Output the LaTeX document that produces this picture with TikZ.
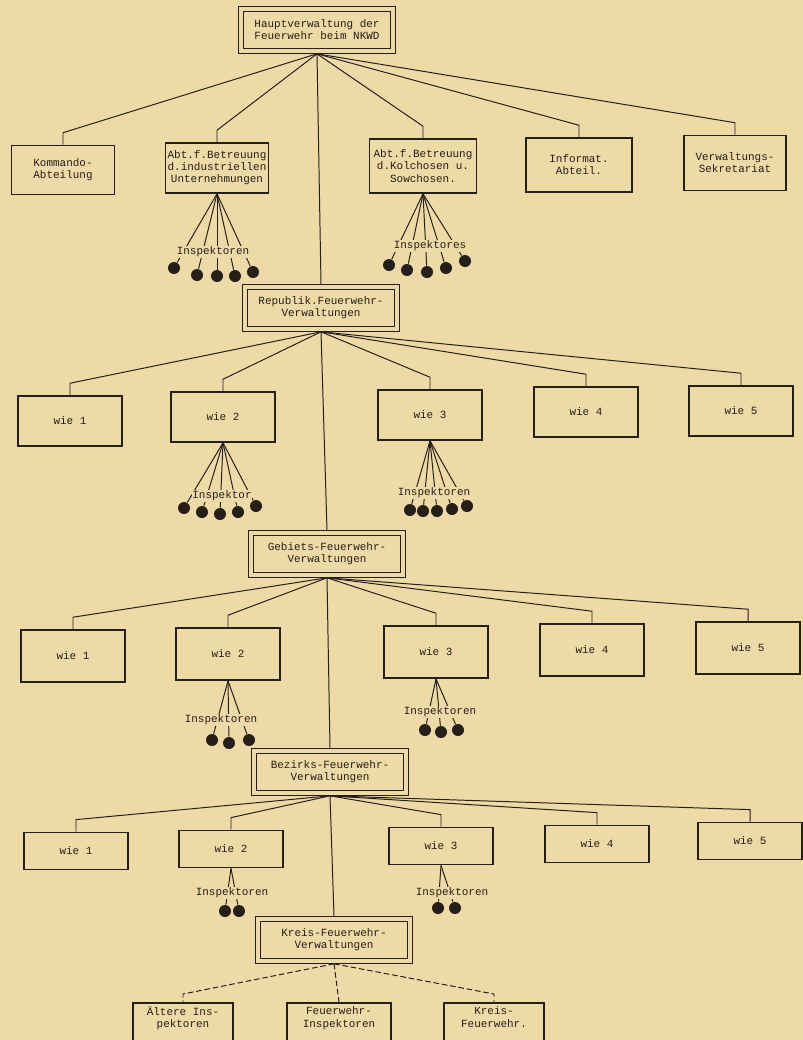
\documentclass[tikz,border=0pt]{standalone}
\usepackage{fontspec}
\setmonofont{Liberation Mono}
\usetikzlibrary{positioning, calc}
\definecolor{paper}{RGB}{238,218,166}
\definecolor{ink}{RGB}{38,30,24}

\begin{document}
\begin{tikzpicture}[x=0.025cm, y=-0.025cm, color=ink, line width=0.7pt,
    font=\ttfamily\fontsize{7.8}{8.6}\selectfont,
    box/.style={rectangle, draw, line width=1.1pt, align=center, inner sep=1pt, minimum width=2.6cm},
    hub/.style={rectangle, draw, double=paper, double distance=2.2pt, line width=0.9pt, align=center,
        inner sep=1pt, outer sep=2pt, minimum width=3.8cm, minimum height=1.05cm},
    ball/.style={circle, fill, inner sep=0pt, minimum size=0.3cm},
    insp/.style={fill=paper, inner sep=0.6pt},
    dashlink/.style={dash pattern=on 4pt off 2pt}]
    \path[use as bounding box, fill=paper] (0,0) rectangle (803,1040);

    % Draw the head offices.
    \node[hub] (haupt) at (317,30) {Hauptverwaltung der\\Feuerwehr beim NKWD};
    \node[hub] (rep) at (321,308) {Republik.Feuerwehr-\\Verwaltungen};
    \node[hub] (geb) at (327,554) {Gebiets-Feuerwehr-\\Verwaltungen};
    \node[hub] (bez) at (330,772) {Bezirks-Feuerwehr-\\Verwaltungen};
    \node[hub] (kreis) at (334,940) {Kreis-Feuerwehr-\\Verwaltungen};

    % Draw the departments of the main office.
    \node[box, minimum width=2.575cm, minimum height=1.225cm] (kom) at (63,170) {Kommando-\\Abteilung};
    \node[box, minimum width=2.575cm, minimum height=1.25cm] (ind) at (217,168) {Abt.f.Betreuung\\d.industriellen\\Unternehmungen};
    \node[box, minimum width=2.675cm, minimum height=1.35cm] (kol) at (423,166) {Abt.f.Betreuung\\d.Kolchosen u.\\Sowchosen.};
    \node[box, minimum width=2.65cm, minimum height=1.35cm] (inf) at (579,165) {Informat.\\Abteil.};
    \node[box, minimum width=2.55cm, minimum height=1.375cm] (sek) at (735,163) {Verwaltungs-\\Sekretariat};

    % Draw the rows below.
    \node[box, minimum height=1.25cm] (w21) at (70,421) {wie 1};
    \node[box, minimum height=1.25cm] (w22) at (223,417) {wie 2};
    \node[box, minimum height=1.25cm] (w23) at (430,415) {wie 3};
    \node[box, minimum height=1.25cm] (w24) at (586,412) {wie 4};
    \node[box, minimum height=1.25cm] (w25) at (741,411) {wie 5};

    \node[box, minimum height=1.3cm] (w31) at (73,656) {wie 1};
    \node[box, minimum height=1.3cm] (w32) at (228,654) {wie 2};
    \node[box, minimum height=1.3cm] (w33) at (436,652) {wie 3};
    \node[box, minimum height=1.3cm] (w34) at (592,650) {wie 4};
    \node[box, minimum height=1.3cm] (w35) at (748,648) {wie 5};

    \node[box, minimum height=0.93cm] (w41) at (76,851) {wie 1};
    \node[box, minimum height=0.93cm] (w42) at (231,849) {wie 2};
    \node[box, minimum height=0.93cm] (w43) at (441,846) {wie 3};
    \node[box, minimum height=0.93cm] (w44) at (597,844) {wie 4};
    \node[box, minimum height=0.93cm] (w45) at (750,841) {wie 5};

    \node[box, anchor=north, minimum width=2.5cm, text depth=0.9cm, inner ysep=3pt] (alt) at (183,1002) {Ältere Ins-\\pektoren};
    \node[box, anchor=north, minimum width=2.6cm, text depth=0.9cm, inner ysep=3pt] (fin) at (339,1002) {Feuerwehr-\\Inspektoren};
    \node[box, anchor=north, minimum width=2.5cm, text depth=0.9cm, inner ysep=3pt] (kfw) at (494,1002) {Kreis-\\Feuerwehr.};

    % Draw the inspectors.
    \node[ball] (b1a) at (174,268) {};
    \node[ball] (b1b) at (197,275) {};
    \node[ball] (b1c) at (217,276) {};
    \node[ball] (b1d) at (235,276) {};
    \node[ball] (b1e) at (253,272) {};
    \node[ball] (b1f) at (389,265) {};
    \node[ball] (b1g) at (407,270) {};
    \node[ball] (b1h) at (427,272) {};
    \node[ball] (b1i) at (446,268) {};
    \node[ball] (b1j) at (465,261) {};

    \node[ball] (b2a) at (184,508) {};
    \node[ball] (b2b) at (202,512) {};
    \node[ball] (b2c) at (220,514) {};
    \node[ball] (b2d) at (238,512) {};
    \node[ball] (b2e) at (256,506) {};
    \node[ball] (b2f) at (410,510) {};
    \node[ball] (b2g) at (423,511) {};
    \node[ball] (b2h) at (437,511) {};
    \node[ball] (b2i) at (452,509) {};
    \node[ball] (b2j) at (467,506) {};

    \node[ball] (b3a) at (212,740) {};
    \node[ball] (b3b) at (229,743) {};
    \node[ball] (b3c) at (249,740) {};
    \node[ball] (b3d) at (425,730) {};
    \node[ball] (b3e) at (441,732) {};
    \node[ball] (b3f) at (458,730) {};

    \node[ball] (b4a) at (225,911) {};
    \node[ball] (b4b) at (239,911) {};
    \node[ball] (b4c) at (438,908) {};
    \node[ball] (b4d) at (455,908) {};

    % Connect the offices.
    \draw (haupt.south) -- (rep.north);
    \draw (rep.south) -- (geb.north);
    \draw (geb.south) -- (bez.north);
    \draw (bez.south) -- (kreis.north);

    \draw (haupt.south) -- ([yshift=0.3cm]kom.north) -- (kom.north);
    \draw (haupt.south) -- ([yshift=0.3cm]ind.north) -- (ind.north);
    \draw (haupt.south) -- ([yshift=0.3cm]kol.north) -- (kol.north);
    \draw (haupt.south) -- ([yshift=0.3cm]inf.north) -- (inf.north);
    \draw (haupt.south) -- ([yshift=0.3cm]sek.north) -- (sek.north);

    \draw (rep.south) -- ([yshift=0.3cm]w21.north) -- (w21.north);
    \draw (rep.south) -- ([yshift=0.3cm]w22.north) -- (w22.north);
    \draw (rep.south) -- ([yshift=0.3cm]w23.north) -- (w23.north);
    \draw (rep.south) -- ([yshift=0.3cm]w24.north) -- (w24.north);
    \draw (rep.south) -- ([yshift=0.3cm]w25.north) -- (w25.north);

    \draw (geb.south) -- ([yshift=0.3cm]w31.north) -- (w31.north);
    \draw (geb.south) -- ([yshift=0.3cm]w32.north) -- (w32.north);
    \draw (geb.south) -- ([yshift=0.3cm]w33.north) -- (w33.north);
    \draw (geb.south) -- ([yshift=0.3cm]w34.north) -- (w34.north);
    \draw (geb.south) -- ([yshift=0.3cm]w35.north) -- (w35.north);

    \draw (bez.south) -- ([yshift=0.3cm]w41.north) -- (w41.north);
    \draw (bez.south) -- ([yshift=0.3cm]w42.north) -- (w42.north);
    \draw (bez.south) -- ([yshift=0.3cm]w43.north) -- (w43.north);
    \draw (bez.south) -- ([yshift=0.3cm]w44.north) -- (w44.north);
    \draw (bez.south) -- ([yshift=0.3cm]w45.north) -- (w45.north);

    \draw[dashlink] (kreis.south) -- ([yshift=0.2cm]alt.north) -- (alt.north);
    \draw[dashlink] (kreis.south) -- (fin.north);
    \draw[dashlink] (kreis.south) -- ([yshift=0.2cm]kfw.north) -- (kfw.north);

    % Fans to the inspectors.
    \path (ind.south) edge (b1a) edge (b1b) edge (b1c) edge (b1d) edge (b1e);
    \path (kol.south) edge (b1f) edge (b1g) edge (b1h) edge (b1i) edge (b1j);
    \path (w22.south) edge (b2a) edge (b2b) edge (b2c) edge (b2d) edge (b2e);
    \path (w23.south) edge (b2f) edge (b2g) edge (b2h) edge (b2i) edge (b2j);
    \path (w32.south) edge (b3a) edge (b3b) edge (b3c);
    \path (w33.south) edge (b3d) edge (b3e) edge (b3f);
    \path (w42.south) edge (b4a) edge (b4b);
    \path (w43.south) edge (b4c) edge (b4d);

    \node[insp] (i1a) at (213,252) {Inspektoren};
    \node[insp] (i1b) at (430,246) {Inspektores};
    \node[insp] (i2a) at (222,496) {Inspektor};
    \node[insp] (i2b) at (434,493) {Inspektoren};
    \node[insp] (i3a) at (221,720) {Inspektoren};
    \node[insp] (i3b) at (440,712) {Inspektoren};
    \node[insp] (i4a) at (232,893) {Inspektoren};
    \node[insp] (i4b) at (452,893) {Inspektoren};
\end{tikzpicture}
\end{document}
